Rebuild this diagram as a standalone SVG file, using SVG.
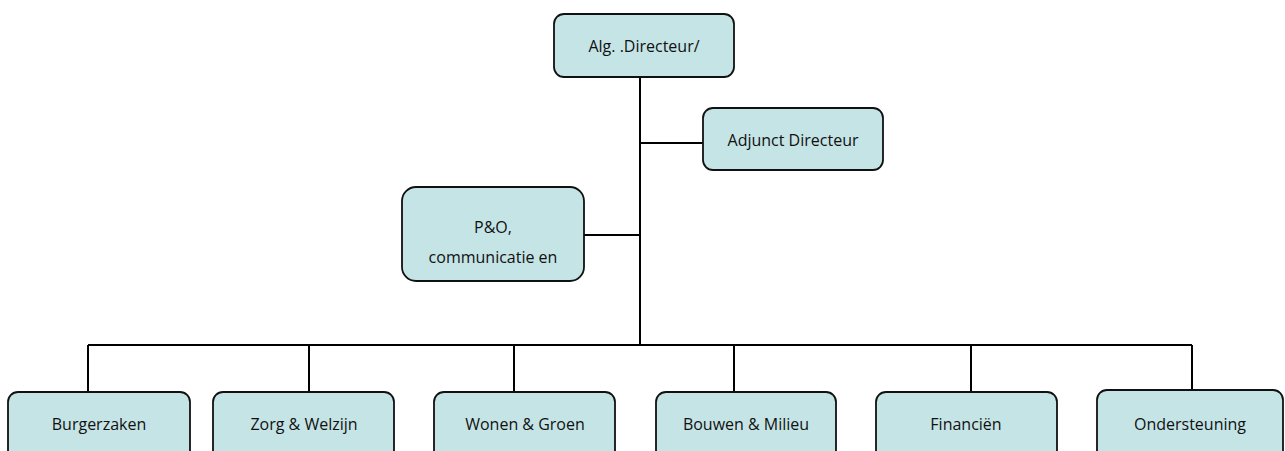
<svg xmlns="http://www.w3.org/2000/svg" width="1285" height="451" viewBox="0 0 1285 451">
<style>
.box{fill:#c5e4e6;stroke:#111;stroke-width:1.8}
.lbl{font-family:"Open Sans","Noto Sans",sans-serif;font-size:16px;fill:#111;text-anchor:middle;dominant-baseline:central}
.ln{stroke:#000;stroke-width:2;fill:none}
</style>
<rect width="1285" height="451" fill="#fff"/>
<g id="connectors">
<line class="ln" x1="640" y1="77" x2="640" y2="345"/>
<line class="ln" x1="640" y1="143" x2="703" y2="143"/>
<line class="ln" x1="584" y1="235" x2="640" y2="235"/>
<line class="ln" x1="88" y1="345" x2="1192" y2="345"/>
<line class="ln" x1="88" y1="345" x2="88" y2="392"/>
<line class="ln" x1="309" y1="345" x2="309" y2="392"/>
<line class="ln" x1="514" y1="345" x2="514" y2="392"/>
<line class="ln" x1="734" y1="345" x2="734" y2="392"/>
<line class="ln" x1="971" y1="345" x2="971" y2="392"/>
<line class="ln" x1="1192" y1="345" x2="1192" y2="391"/>
</g>
<g id="n-alg"><rect class="box" x="554" y="14" width="180" height="63" rx="10"/><text class="lbl" x="644" y="46">Alg. .Directeur/</text></g>
<g id="n-adjunct"><rect class="box" x="703" y="108" width="180" height="62" rx="10"/><text class="lbl" x="793" y="140">Adjunct Directeur</text></g>
<g id="n-po"><rect class="box" x="402" y="187" width="182" height="94" rx="14"/><text class="lbl" x="493" y="227">P&amp;O,</text><text class="lbl" x="493" y="257">communicatie en</text></g>
<g id="n-burgerzaken"><rect class="box" x="8" y="392" width="182" height="70" rx="10"/><text class="lbl" x="99" y="424">Burgerzaken</text></g>
<g id="n-zorg"><rect class="box" x="213" y="392" width="181" height="70" rx="10"/><text class="lbl" x="304" y="424">Zorg &amp; Welzijn</text></g>
<g id="n-wonen"><rect class="box" x="434" y="392" width="181" height="70" rx="10"/><text class="lbl" x="525" y="424">Wonen &amp; Groen</text></g>
<g id="n-bouwen"><rect class="box" x="656" y="392" width="180" height="70" rx="10"/><text class="lbl" x="746" y="424">Bouwen &amp; Milieu</text></g>
<g id="n-financien"><rect class="box" x="876" y="392" width="181" height="70" rx="10"/><text class="lbl" x="966" y="424">Financiën</text></g>
<g id="n-ondersteuning"><rect class="box" x="1097" y="390" width="186" height="72" rx="10"/><text class="lbl" x="1190" y="424">Ondersteuning</text></g>
</svg>
